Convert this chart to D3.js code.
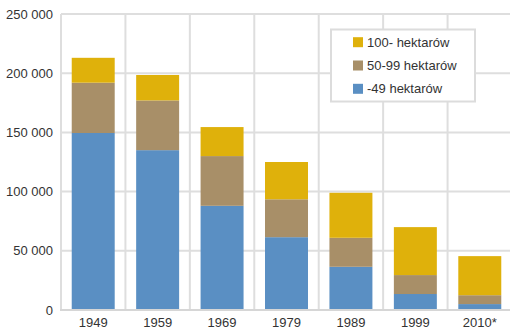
<!DOCTYPE html>
<html>
<head>
<meta charset="utf-8">
<script src="https://cdn.jsdelivr.net/npm/d3@7"></script>
<style>
  html, body { margin: 0; padding: 0; background: #fff; }
  svg { display: block; font-family: "Liberation Sans", Arial, sans-serif; }
</style>
</head>
<body>
<svg id="chart" width="510" height="330"></svg>
<script>
// Gospodarstwa rolne według wielkości (liczba), lata 1949–2010
const years = ["1949", "1959", "1969", "1979", "1989", "1999", "2010*"];
const small  = [149500, 135000, 88000, 61500, 36500, 13500, 5000];   // -49 ha
const medium = [42500, 42000, 42000, 32000, 24500, 16000, 7500];     // 50-99 ha
const large  = [21000, 21500, 24500, 31500, 38000, 40500, 33000];    // 100- ha
const seriesNames = ["-49 hektarów", "50-99 hektarów", "100- hektarów"];
const seriesColors = ["#5a8fc3", "#a88f68", "#dfb10b"];
const yTicks = [0, 50000, 100000, 150000, 200000, 250000];

const svg = d3.select("#chart");
const margin = { left: 61, right: -2, top: 14, bottom: 20 };
const W = 510, H = 330;
const x0 = margin.left, x1 = W - margin.right;
const y0 = H - margin.bottom, y1 = margin.top;

const x = d3.scaleBand().domain(years).range([x0, x1]).padding(0);
const y = d3.scaleLinear().domain([0, 250000]).range([y0, y1]);

const rows = years.map((yr, i) => ({ year: yr, s0: small[i], s1: medium[i], s2: large[i] }));
const stack = d3.stack().keys(["s0", "s1", "s2"]);
const layers = stack(rows);

const fmt = v => d3.format(",")(v).replace(/,/g, " ");

// horizontal grid
svg.append("g")
  .selectAll("line")
  .data(yTicks.slice(1))
  .join("line")
  .attr("x1", x0).attr("x2", W)
  .attr("y1", d => y(d)).attr("y2", d => y(d))
  .attr("stroke", "#dedede").attr("stroke-width", 2);

// vertical grid at category boundaries
const bounds = years.map(d => x(d)).concat([x1]);
svg.append("g")
  .selectAll("line")
  .data(bounds)
  .join("line")
  .attr("x1", d => d).attr("x2", d => d)
  .attr("y1", y1).attr("y2", y0)
  .attr("stroke", "#dedede").attr("stroke-width", 2);

// stacked bars
const barW = x.bandwidth() * 0.667;
svg.append("g")
  .selectAll("g")
  .data(layers)
  .join("g")
  .attr("fill", (d, i) => seriesColors[i])
  .selectAll("rect")
  .data(d => d)
  .join("rect")
  .attr("x", d => x(d.data.year) + (x.bandwidth() - barW) / 2)
  .attr("width", barW)
  .attr("y", d => y(d[1]))
  .attr("height", d => y(d[0]) - y(d[1]));

// baseline
svg.append("line")
  .attr("x1", x0 - 1).attr("x2", W)
  .attr("y1", y0).attr("y2", y0)
  .attr("stroke", "#d6d6d6").attr("stroke-width", 2);

// y axis labels
const yAxis = d3.axisLeft(y).tickValues(yTicks).tickFormat(fmt).tickSize(0).tickPadding(8);
const gy = svg.append("g").attr("transform", `translate(${x0},0)`).call(yAxis);
gy.select(".domain").remove();
gy.selectAll("text").attr("fill", "#333").attr("font-size", 13).attr("font-family", "Liberation Sans, Arial, sans-serif");

// x axis labels
const xAxis = d3.axisBottom(x).tickSize(0).tickPadding(8);
const gx = svg.append("g").attr("transform", `translate(0,${y0})`).call(xAxis);
gx.select(".domain").remove();
gx.selectAll("text").attr("fill", "#333").attr("font-size", 13).attr("font-family", "Liberation Sans, Arial, sans-serif");

// legend
const lg = svg.append("g").attr("transform", "translate(331,29.5)");
lg.append("rect").attr("width", 144).attr("height", 72)
  .attr("fill", "#fff").attr("stroke", "#dcdcdc").attr("stroke-width", 2);
const legendOrder = [2, 1, 0];
const items = lg.selectAll("g.item").data(legendOrder).join("g")
  .attr("class", "item")
  .attr("transform", (d, i) => `translate(22,${7.7 + i * 23.3})`);
items.append("rect").attr("width", 10).attr("height", 10).attr("fill", d => seriesColors[d]);
items.append("text").attr("x", 14).attr("y", 5).attr("dy", "0.35em")
  .attr("font-size", 13).attr("fill", "#333")
  .text(d => seriesNames[d]);
</script>
</body>
</html>
